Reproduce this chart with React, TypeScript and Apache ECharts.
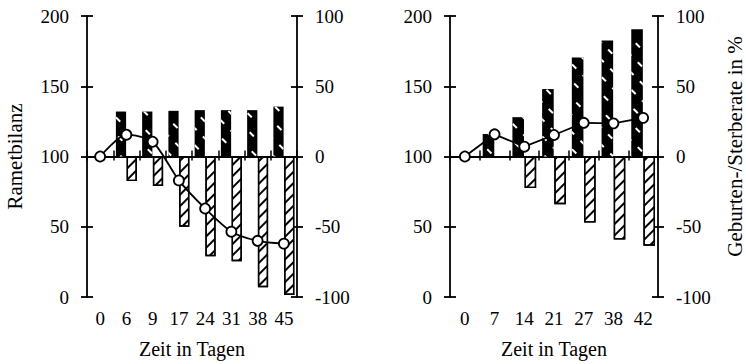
import React, { useEffect, useRef } from "react";
import * as echarts from "echarts";

const leftDays = ["0", "6", "9", "17", "24", "31", "38", "45"];
const leftBalance = [100, 115.5, 110.5, 83, 63, 46.5, 40, 38];
const leftBirths = [null, 32, 32, 32.5, 33, 33, 33, 35.5];
const leftDeaths = [null, -17.5, -21, -50, -71, -74.5, -93, -98.5];

const rightDays = ["0", "7", "14", "21", "27", "38", "42"];
const rightBalance = [100, 115.8, 107, 115.3, 124, 123.6, 127.5];
const rightBirths = [null, 16, 28, 48, 70.5, 82.5, 90.5];
const rightDeaths = [null, null, -22.5, -34, -47, -59, -63.5];

const leftTicks = [0, 50, 100, 150, 200];
const rightTicks = [-100, -50, 0, 50, 100];

const FONT = "Liberation Serif";
const BLACK = "#000";

export default function App() {
  const ref = useRef<HTMLDivElement>(null);
  useEffect(() => {
    document.body.style.margin = "0";
    if (!ref.current) return;
    const chart = echarts.init(ref.current, null, { renderer: "svg" });
    const labelStyle = { color: BLACK, fontFamily: FONT, fontSize: 19 };
    const axisLine = { show: true, lineStyle: { color: BLACK, width: 1.8 } };

    const mkY = (gridIndex: number, pos: "left" | "right", min: number, max: number, name: string, nameGap: number, inside: boolean, namePad: number[] = [0, 0, 0, 0]) => ({
      type: "value",
      gridIndex,
      position: pos,
      min,
      max,
      interval: 50,
      name,
      nameLocation: "middle",
      nameRotate: 90,
      nameGap,
      nameTextStyle: { color: BLACK, fontFamily: FONT, fontSize: 21, padding: namePad },
      axisLine: inside ? { show: false } : axisLine,
      axisTick: { show: true, inside, length: 6, lineStyle: { color: BLACK, width: 1.8 } },
      axisLabel: inside
        ? { show: false }
        : { ...labelStyle, margin: 18, formatter: (v: number) => String(v) },
      splitLine: { show: false },
    });

    const mkX = (gridIndex: number, data: string[]) => [
      {
        type: "category",
        gridIndex,
        data,
        position: "bottom",
        name: "Zeit in Tagen",
        nameLocation: "middle",
        nameGap: 42,
        nameTextStyle: { color: BLACK, fontFamily: FONT, fontSize: 20 },
        axisLine: { show: false, onZero: false },
        axisTick: { show: false },
        axisLabel: { ...labelStyle, margin: 12, interval: 0 },
      },
      {
        type: "category",
        gridIndex,
        data,
        position: "bottom",
        axisLine: { show: true, onZero: true, onZeroAxisIndex: gridIndex * 4 + 1, lineStyle: { color: BLACK, width: 1.8 } },
        axisTick: { show: true, inside: false, length: 4, lineStyle: { color: BLACK, width: 1.5 } },
        axisLabel: { show: false },
      },
      {
        type: "category",
        gridIndex,
        data,
        position: "bottom",
        axisLine: { show: false, onZero: true, onZeroAxisIndex: gridIndex * 4 + 1 },
        axisTick: { show: true, inside: true, length: 6, lineStyle: { color: BLACK, width: 1.5 } },
        axisLabel: { show: false },
      },
    ];

    const birthDecal = {
      symbol: "rect",
      symbolSize: 1,
      color: "#fff",
      dashArrayX: [6, 9],
      dashArrayY: [1.4, 10],
      rotation: Math.PI / 4,
    };
    const deathDecal = {
      symbol: "rect",
      symbolSize: 1,
      color: BLACK,
      dashArrayX: [1, 0],
      dashArrayY: [1.5, 6],
      rotation: -Math.PI / 4,
    };

    const mkSeries = (g: number, balance: number[], births: (number | null)[], deaths: (number | null)[], smooth: number | boolean) => [
      {
        type: "bar",
        xAxisIndex: g * 3,
        yAxisIndex: g * 4 + 1,
        data: births,
        barWidth: "39%",
        barGap: "5%",
        itemStyle: { color: BLACK, decal: birthDecal },
        z: 2,
      },
      {
        type: "bar",
        xAxisIndex: g * 3,
        yAxisIndex: g * 4 + 1,
        data: deaths,
        barWidth: "39%",
        barGap: "5%",
        itemStyle: { color: "#fff", borderColor: BLACK, borderWidth: 1.4, decal: deathDecal },
        z: 2,
      },
      {
        type: "line",
        xAxisIndex: g * 3,
        yAxisIndex: g * 4,
        data: balance,
        smooth,
        symbol: "circle",
        symbolSize: 10,
        lineStyle: { color: BLACK, width: 1.8 },
        itemStyle: { color: "#fff", borderColor: BLACK, borderWidth: 1.8 },
        z: 5,
      },
    ];

    chart.setOption({
      animation: false,
      backgroundColor: "#fff",
      grid: [
        { left: 87, top: 16, width: 210, height: 282 },
        { left: 450, top: 16, width: 211, height: 282 },
      ],
      xAxis: [...mkX(0, leftDays), ...mkX(1, rightDays)],
      yAxis: [
        mkY(0, "left", leftTicks[0], leftTicks[leftTicks.length - 1], "Rametbilanz", 62, false),
        mkY(0, "right", rightTicks[0], rightTicks[rightTicks.length - 1], "", 0, false),
        mkY(0, "left", leftTicks[0], leftTicks[leftTicks.length - 1], "", 0, true),
        mkY(0, "right", rightTicks[0], rightTicks[rightTicks.length - 1], "", 0, true),
        mkY(1, "left", leftTicks[0], leftTicks[leftTicks.length - 1], "", 0, false),
        mkY(1, "right", rightTicks[0], rightTicks[rightTicks.length - 1], "Geburten-/Sterberate in %", 66, false, [0, 0, 0, 20]),
        mkY(1, "left", leftTicks[0], leftTicks[leftTicks.length - 1], "", 0, true),
        mkY(1, "right", rightTicks[0], rightTicks[rightTicks.length - 1], "", 0, true),
      ],
      series: [
        ...mkSeries(0, leftBalance, leftBirths, leftDeaths, 0.25),
        ...mkSeries(1, rightBalance, rightBirths, rightDeaths, false),
      ],
    });
    return () => chart.dispose();
  }, []);
  return <div ref={ref} style={{ width: 746, height: 364 }} />;
}
